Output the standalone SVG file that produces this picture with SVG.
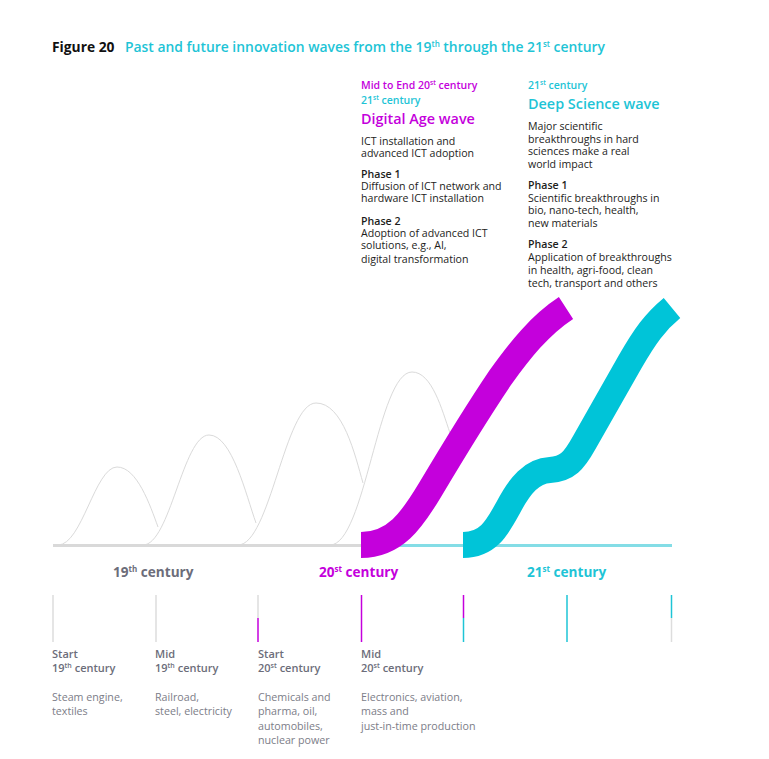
<svg xmlns="http://www.w3.org/2000/svg" width="769" height="759" viewBox="0 0 769 759">
<style>
text{font-family:"Open Sans","Noto Sans","Liberation Sans",sans-serif;}
.t{font-size:10.6px;fill:#1d1d1b;}
.b{font-weight:600;}
.mg{fill:#c400dc;}
.cy{fill:#1ec4d6;}
.gr{fill:#6c6d7a;}
.gd{fill:#7c7d88;font-size:10.7px;}
.hump{fill:none;stroke:#dadada;stroke-width:1;}
.tick{stroke-width:1.5;}
</style>
<rect width="769" height="759" fill="#fff"/>
<g id="title">
<text x="52" y="52" style="font-size:13.8px;font-weight:700;fill:#111">Figure 20</text>
<text x="125" y="52" class="cy" style="font-size:13.9px;font-weight:600">Past and future innovation waves from the 19<tspan dy="-5" font-size="8">th</tspan><tspan dy="5"> through the 21</tspan><tspan dy="-5" font-size="8">st</tspan><tspan dy="5"> century</tspan></text>
</g>
<g id="humps">
<path class="hump" d="M58,545 C82,545 95,467 117,467 C137,467 150,505 158,527"/>
<path class="hump" d="M143,545 C170,545 183,435 209,435 C232,435 246,495 256,523"/>
<path class="hump" d="M238,545 C270,545 285,403 316,403 C343,403 355,455 363,483"/>
<path class="hump" d="M330,545 C365,545 378,372 412,372 C432,372 442,410 450,433"/>
</g>
<g id="baseline">
<line x1="53" y1="545.5" x2="400" y2="545.5" stroke="#d9d9d9" stroke-width="3"/>
<line x1="400" y1="545.5" x2="672" y2="545.5" stroke="#84dde6" stroke-width="3"/>
</g>
<g id="digital-wave">
<path d="M361,545 C395,545 412,520 430,490 C455,448 475,415 500,378 C520,350 540,325 566,308" fill="none" stroke="#c400dc" stroke-width="26"/>
</g>
<g id="deep-science-wave">
<path d="M463,545 C488,545 497,528 508,508 C520,485 532,471 550,470 C567,469 574,461 584,443 L630,362 C645,336 655,322 672,308" fill="none" stroke="#00c4d8" stroke-width="26"/>
</g>
<g id="digital-label">
<text x="361" y="89" class="mg b" style="font-size:10.5px">Mid to End 20<tspan dy="-4" font-size="6.5">st</tspan><tspan dy="4"> century</tspan></text>
<text x="361" y="104" class="cy b" style="font-size:10.5px">21<tspan dy="-4" font-size="6.5">st</tspan><tspan dy="4"> century</tspan></text>
<text x="361" y="124" class="mg b" style="font-size:14.4px">Digital Age wave</text>
<text x="361" y="145" class="t">ICT installation and</text>
<text x="361" y="157" class="t">advanced ICT adoption</text>
<text x="361" y="178" class="t b">Phase 1</text>
<text x="361" y="190" class="t">Diffusion of ICT network and</text>
<text x="361" y="202" class="t">hardware ICT installation</text>
<text x="361" y="225" class="t b">Phase 2</text>
<text x="361" y="237" class="t">Adoption of advanced ICT</text>
<text x="361" y="249" class="t">solutions, e.g., AI,</text>
<text x="361" y="263" class="t">digital transformation</text>
</g>
<g id="deep-label">
<text x="528" y="89" class="cy b" style="font-size:10.5px">21<tspan dy="-4" font-size="6.5">st</tspan><tspan dy="4"> century</tspan></text>
<text x="528" y="109" class="cy b" style="font-size:14.4px">Deep Science wave</text>
<text x="528" y="130" class="t">Major scientific</text>
<text x="528" y="143" class="t">breakthroughs in hard</text>
<text x="528" y="155" class="t">sciences make a real</text>
<text x="528" y="168" class="t">world impact</text>
<text x="528" y="189" class="t b">Phase 1</text>
<text x="528" y="202" class="t">Scientific breakthroughs in</text>
<text x="528" y="214" class="t">bio, nano-tech, health,</text>
<text x="528" y="227" class="t">new materials</text>
<text x="528" y="248" class="t b">Phase 2</text>
<text x="528" y="261" class="t">Application of breakthroughs</text>
<text x="528" y="274" class="t">in health, agri-food, clean</text>
<text x="528" y="287" class="t">tech, transport and others</text>
</g>
<g id="century-labels">
<text x="113" y="577" class="gr" style="font-size:13.6px;font-weight:700">19<tspan dy="-5" font-size="8">th</tspan><tspan dy="5"> century</tspan></text>
<text x="319" y="577" class="mg" style="font-size:13.6px;font-weight:700">20<tspan dy="-5" font-size="8">st</tspan><tspan dy="5"> century</tspan></text>
<text x="527" y="577" class="cy" style="font-size:13.6px;font-weight:700">21<tspan dy="-5" font-size="8">st</tspan><tspan dy="5"> century</tspan></text>
</g>
<g id="ticks">
<line class="tick" x1="53" y1="595" x2="53" y2="642" stroke="#dddddd"/>
<line class="tick" x1="156" y1="595" x2="156" y2="642" stroke="#dddddd"/>
<line class="tick" x1="258" y1="595" x2="258" y2="618" stroke="#dddddd"/>
<line class="tick" x1="258" y1="618" x2="258" y2="642" stroke="#c400dc"/>
<line class="tick" x1="361.5" y1="595" x2="361.5" y2="642" stroke="#c400dc"/>
<line class="tick" x1="463.5" y1="595" x2="463.5" y2="618" stroke="#c400dc"/>
<line class="tick" x1="463.5" y1="618" x2="463.5" y2="642" stroke="#1ec4d6"/>
<line class="tick" x1="567" y1="595" x2="567" y2="642" stroke="#1ec4d6"/>
<line class="tick" x1="671.5" y1="595" x2="671.5" y2="618" stroke="#1ec4d6"/>
<line class="tick" x1="671.5" y1="618" x2="671.5" y2="642" stroke="#dddddd"/>
</g>
<g id="period-1">
<text x="52" y="658" class="gr b" style="font-size:11px">Start</text>
<text x="52" y="672" class="gr b" style="font-size:11px">19<tspan dy="-4" font-size="7">th</tspan><tspan dy="4"> century</tspan></text>
<text x="52" y="701" class="gd">Steam engine,</text>
<text x="52" y="715" class="gd">textiles</text>
</g>
<g id="period-2">
<text x="155" y="658" class="gr b" style="font-size:11px">Mid</text>
<text x="155" y="672" class="gr b" style="font-size:11px">19<tspan dy="-4" font-size="7">th</tspan><tspan dy="4"> century</tspan></text>
<text x="155" y="701" class="gd">Railroad,</text>
<text x="155" y="715" class="gd">steel, electricity</text>
</g>
<g id="period-3">
<text x="258" y="658" class="gr b" style="font-size:11px">Start</text>
<text x="258" y="672" class="gr b" style="font-size:11px">20<tspan dy="-4" font-size="7">st</tspan><tspan dy="4"> century</tspan></text>
<text x="258" y="701" class="gd">Chemicals and</text>
<text x="258" y="715" class="gd">pharma, oil,</text>
<text x="258" y="730" class="gd">automobiles,</text>
<text x="258" y="744" class="gd">nuclear power</text>
</g>
<g id="period-4">
<text x="361" y="658" class="gr b" style="font-size:11px">Mid</text>
<text x="361" y="672" class="gr b" style="font-size:11px">20<tspan dy="-4" font-size="7">st</tspan><tspan dy="4"> century</tspan></text>
<text x="361" y="701" class="gd">Electronics, aviation,</text>
<text x="361" y="715" class="gd">mass and</text>
<text x="361" y="730" class="gd">just-in-time production</text>
</g>
</svg>
